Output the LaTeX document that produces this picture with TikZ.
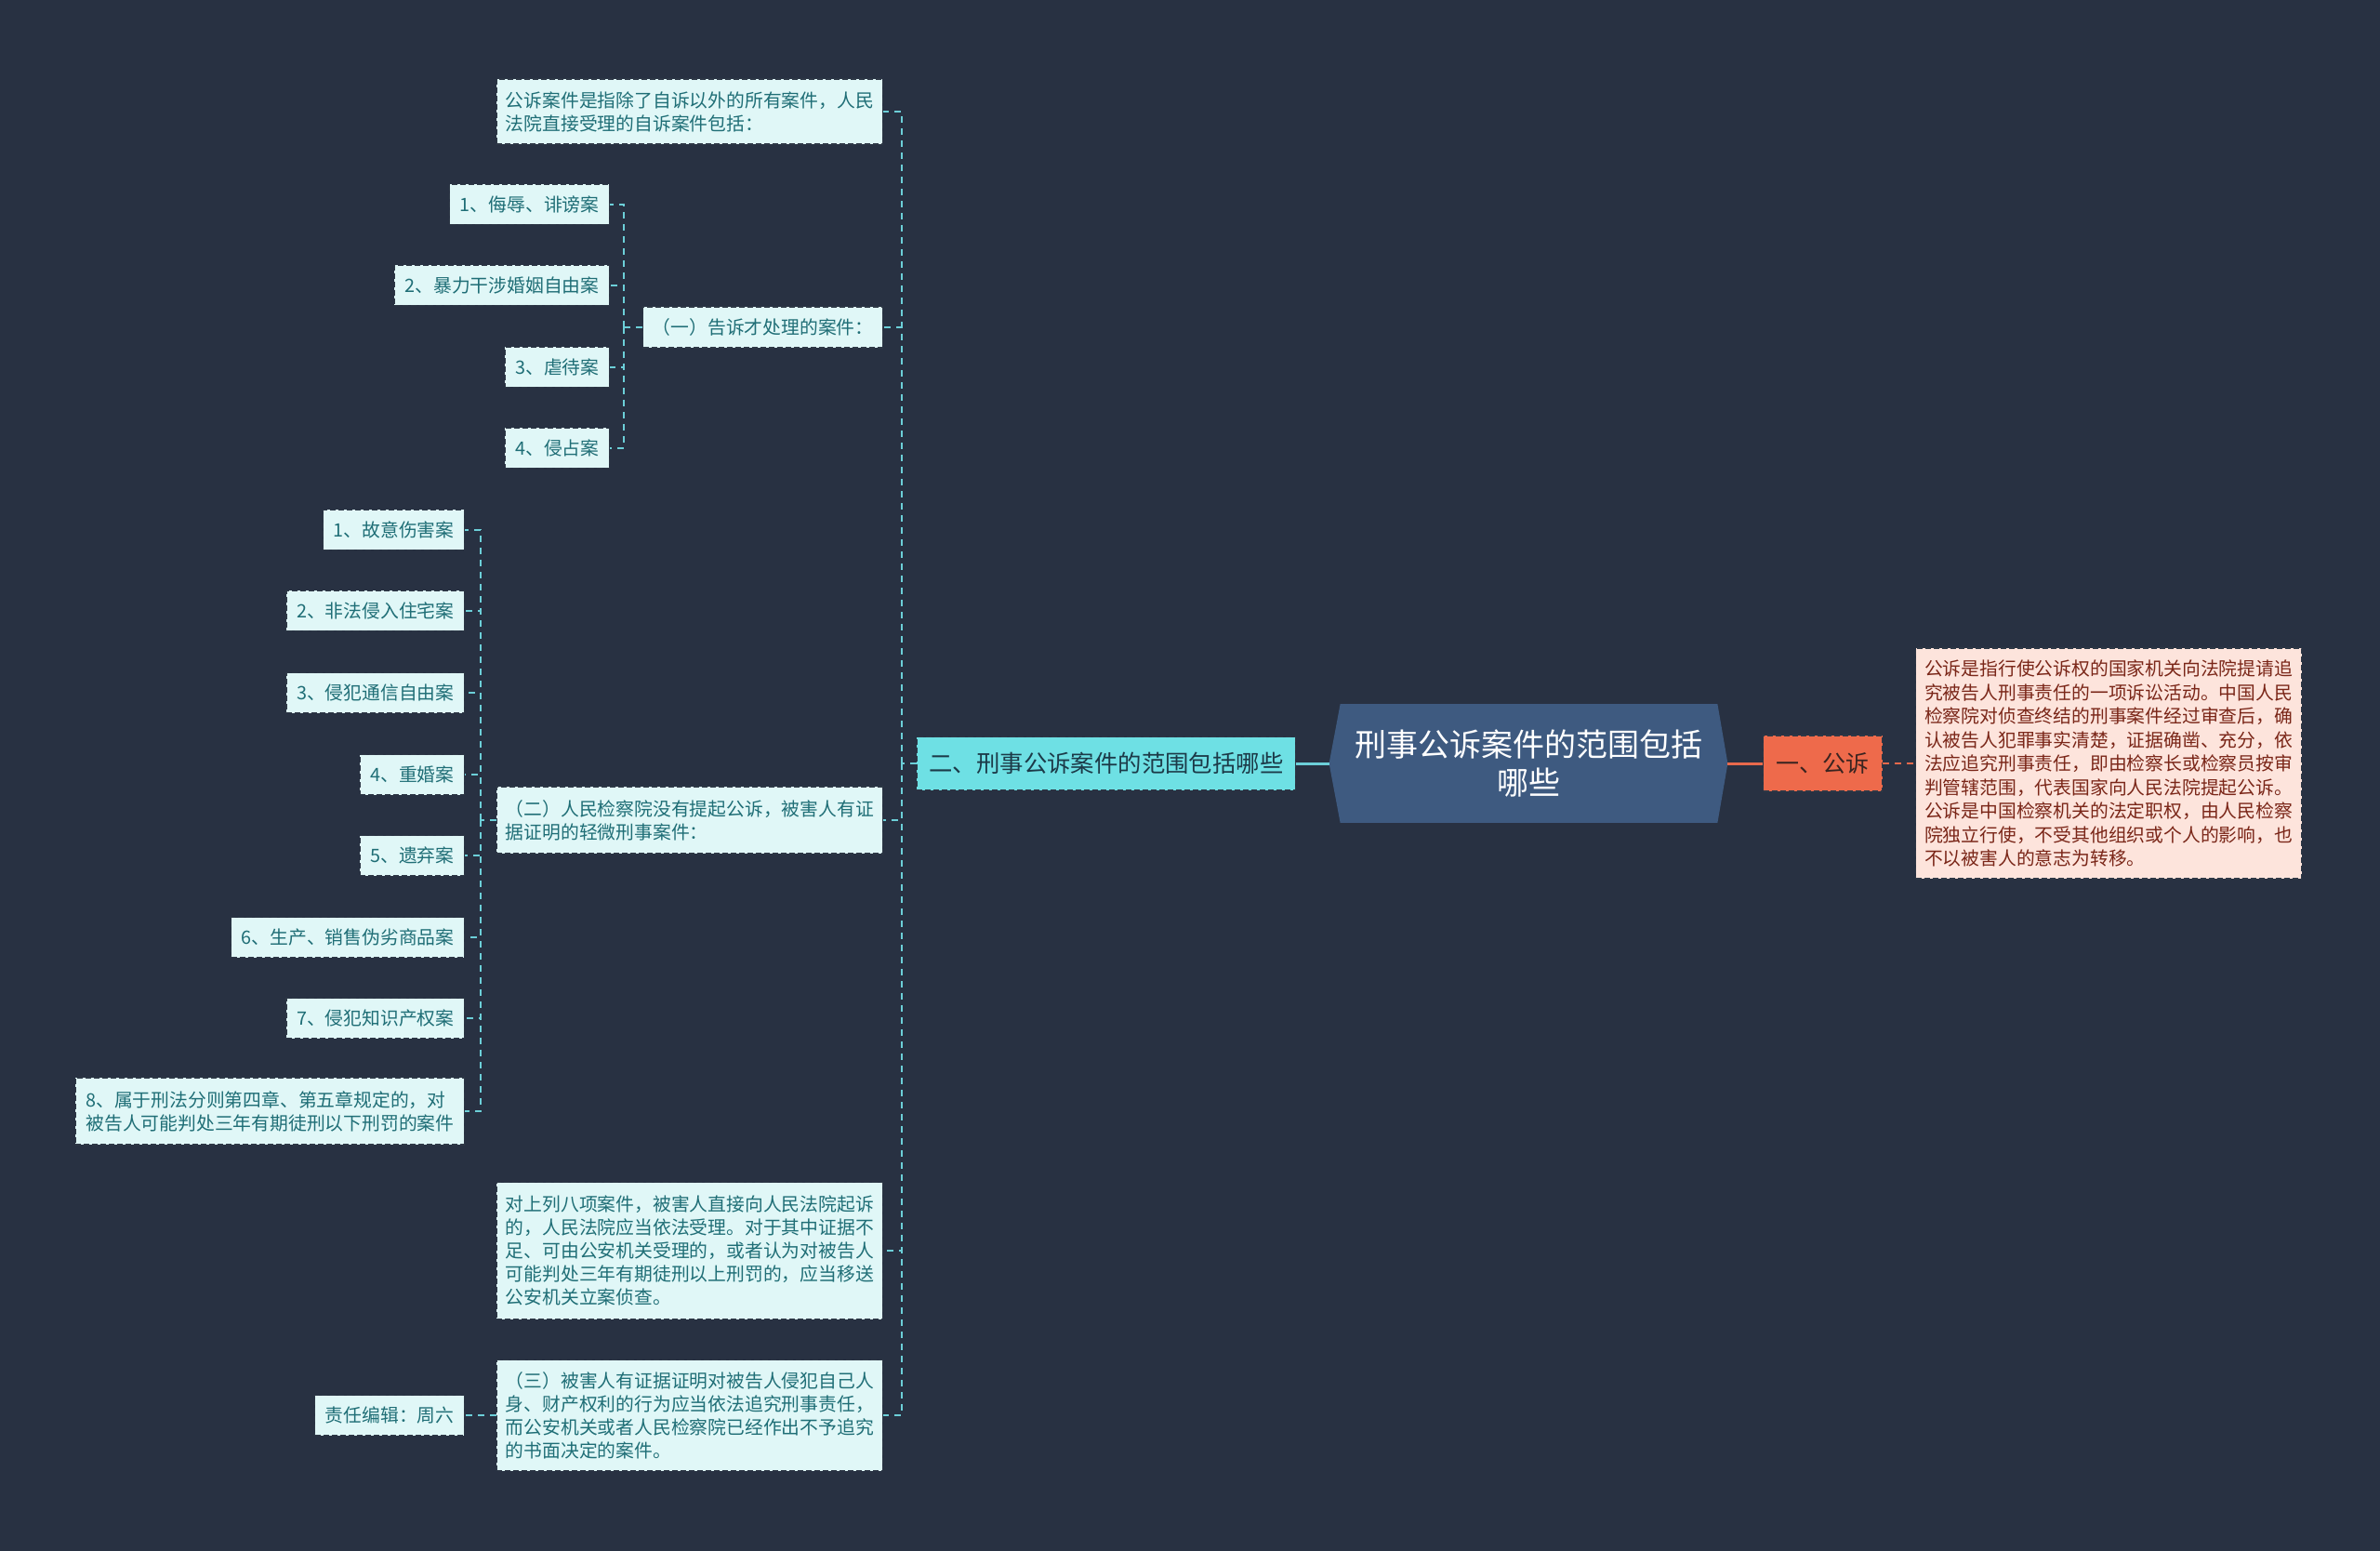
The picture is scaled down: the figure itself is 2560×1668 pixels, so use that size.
\documentclass[tikz,border=0pt]{standalone}
\usepackage{fontspec}
\newfontfamily\cjk{Noto Sans CJK SC}
\usetikzlibrary{calc,backgrounds}
\definecolor{bgc}{HTML}{283142}
\definecolor{leaff}{HTML}{E0F7F7}
\definecolor{leaft}{HTML}{1F6E76}
\definecolor{bord}{HTML}{2E3846}
\definecolor{cyanf}{HTML}{6EE0E4}
\definecolor{cyant}{HTML}{1C3A48}
\definecolor{hexf}{HTML}{3E5A80}
\definecolor{oranf}{HTML}{EE6A4B}
\definecolor{orant}{HTML}{3A2420}
\definecolor{pinkf}{HTML}{FDE4DC}
\definecolor{pinkt}{HTML}{7A2618}
\definecolor{linec}{HTML}{6CCFD8}
\definecolor{lineo}{HTML}{E8694C}
\tikzset{
  box/.style={draw=bord, dash pattern=on 3pt off 1.5pt, line width=0.6pt, inner xsep=5.5pt, inner ysep=0pt, align=left},
  leaf/.style={box, fill=leaff, text=leaft, font=\cjk\fontsize{9.9}{12.5}\selectfont, minimum height=21.5pt, anchor=east},
  lvltwo/.style={leaf, minimum width=207.5pt, inner xsep=4.5pt},
  lvlone/.style={box, fill=cyanf, text=cyant, font=\cjk\fontsize{12.7}{15}\selectfont, minimum height=28.5pt, inner xsep=6.5pt, anchor=east},
  orbox/.style={box, fill=oranf, text=orant, font=\cjk\fontsize{12.5}{15}\selectfont, minimum height=30pt, minimum width=64pt, anchor=west},
  pkbox/.style={box, fill=pinkf, text=pinkt, font=\cjk\fontsize{9.9}{12.75}\selectfont, minimum height=124pt, minimum width=207.5pt, inner xsep=4.5pt, anchor=west},
  central/.style={text=white, font=\cjk\fontsize{17}{20.5}\selectfont, align=center, minimum width=214pt, minimum height=63.5pt, inner sep=0pt},
  conn/.style={draw=linec, line width=1pt, dash pattern=on 3.5pt off 3pt},
  conno/.style={draw=lineo, line width=1pt, dash pattern=on 3.5pt off 3pt},
  solidc/.style={draw=linec, line width=1.5pt},
  solido/.style={draw=lineo, line width=1.5pt}
}
\begin{document}
\begin{tikzpicture}[x=0.5pt,y=-0.5pt]
\useasboundingbox (0,0) rectangle (2560,1668);
% central
\node[central] (c) at (1644,821) {刑事公诉案件的范围包括\\哪些};
\begin{pgfonlayer}{background}
\fill[bgc] (0,0) rectangle (2560,1668);
\fill[hexf] (c.west) -- ($(c.north west)+(12,0)$) -- ($(c.north east)+(-11,0)$) -- (c.east) -- ($(c.south east)+(-11,0)$) -- ($(c.south west)+(12,0)$) -- cycle;
\end{pgfonlayer}
% right branch
\node[orbox] (n1) at (1896,821) {一、公诉};
\node[pkbox] (p) at (2060,821) {公诉是指行使公诉权的国家机关向法院提请追\\究被告人刑事责任的一项诉讼活动。中国人民\\检察院对侦查终结的刑事案件经过审查后，确\\认被告人犯罪事实清楚，证据确凿、充分，依\\法应追究刑事责任，即由检察长或检察员按审\\判管辖范围，代表国家向人民法院提起公诉。\\公诉是中国检察机关的法定职权，由人民检察\\院独立行使，不受其他组织或个人的影响，也\\不以被害人的意志为转移。};
% left branch
\node[lvlone] (n2) at (1394,821) {二、刑事公诉案件的范围包括哪些};
\node[lvltwo, minimum height=35pt] (a) at (950,120) {公诉案件是指除了自诉以外的所有案件，人民\\法院直接受理的自诉案件包括：};
\node[leaf, minimum height=22pt, inner xsep=5pt] (g1) at (950,352) {（一）告诉才处理的案件：};
\node[lvltwo, minimum height=36pt] (g2) at (950,882) {（二）人民检察院没有提起公诉，被害人有证\\据证明的轻微刑事案件：};
\node[lvltwo, minimum height=73.5pt] (k) at (950,1345) {对上列八项案件，被害人直接向人民法院起诉\\的，人民法院应当依法受理。对于其中证据不\\足、可由公安机关受理的，或者认为对被告人\\可能判处三年有期徒刑以上刑罚的，应当移送\\公安机关立案侦查。};
\node[lvltwo, minimum height=59.5pt] (d) at (950,1522) {（三）被害人有证据证明对被告人侵犯自己人\\身、财产权利的行为应当依法追究刑事责任，\\而公安机关或者人民检察院已经作出不予追究\\的书面决定的案件。};
% group one children
\node[leaf] (ga) at (656,220) {1、侮辱、诽谤案};
\node[leaf] (gb) at (656,307) {2、暴力干涉婚姻自由案};
\node[leaf] (gc) at (656,395) {3、虐待案};
\node[leaf] (gd) at (656,482) {4、侵占案};
% group two children
\node[leaf] (ha) at (500,570) {1、故意伤害案};
\node[leaf] (hb) at (500,657) {2、非法侵入住宅案};
\node[leaf] (hc) at (500,745) {3、侵犯通信自由案};
\node[leaf] (hd) at (500,833) {4、重婚案};
\node[leaf] (he) at (500,920) {5、遗弃案};
\node[leaf] (hf) at (500,1008) {6、生产、销售伪劣商品案};
\node[leaf] (hg) at (500,1095) {7、侵犯知识产权案};
\node[leaf, minimum height=36pt] (hh) at (500,1195) {8、属于刑法分则第四章、第五章规定的，对\\被告人可能判处三年有期徒刑以下刑罚的案件};
\node[leaf] (ed) at (500,1522) {责任编辑：周六};
% connectors
\draw[solidc] (c.west) -- (n2.east);
\draw[solido] (c.east) -- (n1.west);
\draw[conno] (n1.east) -- (p.west);
\coordinate (t) at ($(n2.west)+(-16,0)$);
\draw[conn] (n2.west) -- (t);
\foreach \n in {a,g1,g2,k,d} \draw[conn] (t) |- (\n.east);
\coordinate (j1) at ($(g1.west)+(-20,0)$);
\draw[conn] (g1.west) -- (j1);
\foreach \n in {ga,gb,gc,gd} \draw[conn] (j1) |- (\n.east);
\coordinate (j2) at ($(g2.west)+(-17,0)$);
\draw[conn] (g2.west) -- (j2);
\foreach \n in {ha,hb,hc,hd,he,hf,hg,hh} \draw[conn] (j2) |- (\n.east);
\draw[conn] (d.west) -- (ed.east);
\end{tikzpicture}
\end{document}
